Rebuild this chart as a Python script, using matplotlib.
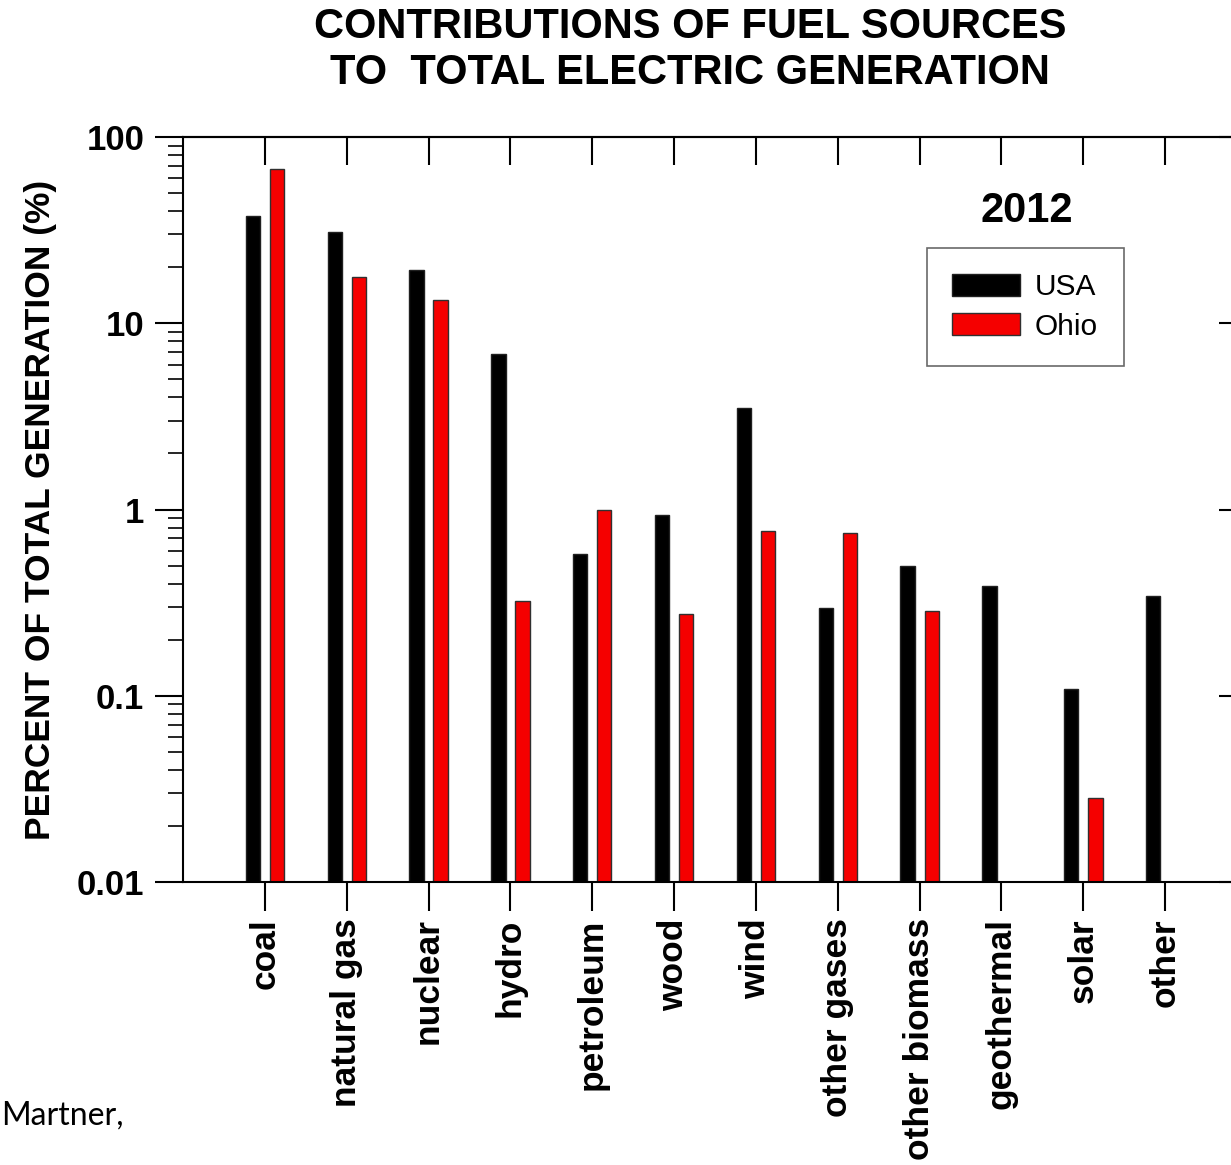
import numpy as np
import matplotlib as mpl
mpl.use('Agg')
import matplotlib.pyplot as plt
from matplotlib.ticker import FixedLocator, LogLocator, FuncFormatter, NullFormatter

# fuel sources and their share of 2012 generation (%)
sources = ['coal', 'natural gas', 'nuclear', 'hydro', 'petroleum', 'wood',
           'wind', 'other gases', 'other biomass', 'geothermal', 'solar', 'other']
usa  = [37.8, 30.8, 19.3, 6.8, 0.58, 0.94, 3.52, 0.297, 0.497, 0.39, 0.109, 0.345]
ohio = [67.1, 17.8, 13.3, 0.323, 1.0, 0.274, 0.769, 0.751, 0.286, np.nan, 0.0284, np.nan]

yticks = [0.01, 0.1, 1, 10, 100]

plt.rcParams['font.family'] = ['Liberation Sans', 'DejaVu Sans']
plt.rcParams['axes.linewidth'] = 1.5

fig = plt.figure(figsize=(12.31, 11.65), dpi=100)
ax = fig.add_axes([0.1487, 0.2429, 0.8643, 0.6395])

x = np.arange(len(sources))
w = 0.175
off = 0.147

ax.set_yscale('log')
ax.bar(x - off, usa, w, color='black', edgecolor='#202020', linewidth=1, label='USA')
ax.bar(x + off, ohio, w, color='#f50000', edgecolor='#303030', linewidth=1, label='Ohio')

ax.set_xlim(-1, 12)
ax.set_ylim(0.01, 100)

ax.set_xticks(x)
ax.set_xticklabels(sources, rotation=90, fontsize=25.5, fontweight='bold')
ax.tick_params(axis='x', which='major', direction='out', length=21, width=1.5,
               top=False, bottom=True, pad=5)

ax.yaxis.set_major_locator(FixedLocator(yticks))
ax.yaxis.set_major_formatter(FuncFormatter(lambda v, p: '%g' % v))
ax.yaxis.set_minor_locator(LogLocator(base=10, subs=np.arange(2, 10)))
ax.yaxis.set_minor_formatter(NullFormatter())
for lab in ax.get_yticklabels():
    lab.set_fontweight('bold')
ax.tick_params(axis='y', which='major', direction='out', length=20, width=1.5,
               labelsize=25, pad=8)
ax.tick_params(axis='y', which='minor', direction='out', length=11, width=1.2)

# inward ticks on the top and right edges
sec = ax.secondary_xaxis('top')
sec.set_xticks(x)
sec.set_xticklabels([])
sec.tick_params(direction='in', length=20, width=1.5)
secy = ax.secondary_yaxis('right')
secy.set_yticks(yticks)
secy.set_yticklabels([])
secy.tick_params(direction='in', length=20, width=1.5)
secy.yaxis.set_minor_locator(FixedLocator([]))

fig.text(0.5605, 0.9768, 'CONTRIBUTIONS OF FUEL SOURCES', ha='center', va='center',
         fontsize=30, fontweight='bold')
fig.text(0.5605, 0.9373, 'TO  TOTAL ELECTRIC GENERATION', ha='center', va='center',
         fontsize=30, fontweight='bold')
fig.text(0.0325, 0.562, 'PERCENT OF TOTAL GENERATION (%)', rotation=90,
         ha='center', va='center', fontsize=25.5, fontweight='bold')

fig.text(0.8343, 0.8186, '2012', ha='center', va='center', fontsize=30, fontweight='bold')

leg = ax.legend(loc='upper left', bbox_to_anchor=(0.7530, 0.7871),
                bbox_transform=fig.transFigure, fontsize=21.5, frameon=True,
                fancybox=False, borderaxespad=0, borderpad=0.85,
                handlelength=2.27, handleheight=0.74, handletextpad=0.5,
                labelspacing=0.38)
leg.get_frame().set_edgecolor('#444444')
leg.get_frame().set_linewidth(1.2)

fig.text(0.001, 0.0425, 'Martner,', ha='left', va='center', fontsize=23,
         family=['Lato', 'DejaVu Sans'])

fig.savefig('out.png', dpi=100, facecolor='white')
